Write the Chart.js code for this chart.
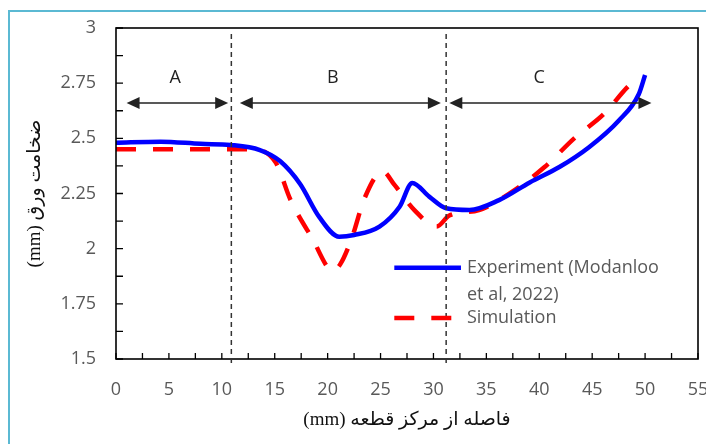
<!DOCTYPE html>
<html>
<head>
<meta charset="utf-8">
<script src="https://cdn.jsdelivr.net/npm/chart.js@4.4.1/dist/chart.umd.min.js"></script>
<style>
  html, body { margin: 0; padding: 0; background: #fff; }
  #wrap { width: 706px; height: 444px; position: relative; }
</style>
</head>
<body>
<div id="wrap"><canvas id="thickness" width="706" height="444" dir="rtl"></canvas></div>
<script>
// Experiment (Modanloo et al, 2022)
const expX = [0, 4.2, 8, 10.8, 13.6, 15.5, 17.4, 19.2, 21.1, 22.5, 24.9, 26.8, 28.0, 29.6, 31.2, 33.4, 36.2, 39.1, 41.9, 44.7, 47.5, 49.4, 50.0];
const expY = [2.48, 2.485, 2.475, 2.47, 2.447, 2.397, 2.293, 2.144, 2.054, 2.062, 2.10, 2.19, 2.298, 2.236, 2.183, 2.175, 2.22, 2.30, 2.37, 2.46, 2.58, 2.70, 2.787];

// Simulation
const simX = [0, 5, 10, 13, 15.1, 16.5, 18.5, 20.5, 21.2, 22.3, 23.5, 25.2, 26.3, 28.2, 30.3, 31.5, 34.3, 37.2, 40.5, 43.3, 46.1, 48.5, 49.6];
const simY = [2.45, 2.45, 2.45, 2.45, 2.39, 2.22, 2.05, 1.90, 1.93, 2.05, 2.23, 2.35, 2.29, 2.175, 2.10, 2.15, 2.175, 2.25, 2.37, 2.50, 2.61, 2.74, 2.78];

// zones A, B, C
const zoneLabels = ['A', 'B', 'C'];
const zoneStart = [1.0, 11.7, 31.5];
const zoneEnd = [10.6, 30.7, 50.6];
const zoneLabelX = [5.6, 20.5, 40.0];
const dividers = [10.9, 31.2];

const xTitle = 'فاصله از مرکز قطعه (mm)';
const yTitle = 'ضخامت ورق (mm)';

const toPoints = (xs, ys) => xs.map((x, i) => ({ x: x, y: ys[i] }));

const frame = {
  id: 'frame',
  afterDraw(chart) {
    const ctx = chart.ctx;
    const a = chart.chartArea;
    const xs = chart.scales.x, ys = chart.scales.y;
    ctx.save();
    ctx.direction = 'ltr';

    // outer cyan border
    ctx.strokeStyle = '#5bb9d3';
    ctx.lineWidth = 2;
    ctx.strokeRect(9, 11, 800, 800);

    // plot frame
    ctx.strokeStyle = '#000';
    ctx.lineWidth = 1.6;
    ctx.strokeRect(a.left, a.top, a.right - a.left, a.bottom - a.top);

    // inward tick marks
    ctx.lineWidth = 1.3;
    ctx.beginPath();
    for (let v = 0; v <= 55; v += 2.5) {
      const px = xs.getPixelForValue(v);
      ctx.moveTo(px, a.bottom);
      ctx.lineTo(px, a.bottom - 6);
    }
    for (let v = 1.5; v <= 3; v += 0.125) {
      const py = ys.getPixelForValue(v);
      ctx.moveTo(a.left, py);
      ctx.lineTo(a.left + 7, py);
    }
    ctx.stroke();

    // dashed dividers
    ctx.strokeStyle = '#333';
    ctx.lineWidth = 1.5;
    ctx.setLineDash([5, 4]);
    dividers.forEach(d => {
      const px = xs.getPixelForValue(d);
      ctx.beginPath();
      ctx.moveTo(px, a.top + 6);
      ctx.lineTo(px, a.bottom + 8);
      ctx.stroke();
    });
    ctx.setLineDash([]);

    // double arrows
    const ay = ys.getPixelForValue(2.66);
    ctx.strokeStyle = '#222';
    ctx.fillStyle = '#222';
    ctx.lineWidth = 1.5;
    const head = (x, dir) => {
      ctx.beginPath();
      ctx.moveTo(x, ay);
      ctx.lineTo(x - dir * 13, ay - 6);
      ctx.lineTo(x - dir * 13, ay + 6);
      ctx.closePath();
      ctx.fill();
    };
    ctx.font = '18px "Open Sans"';
    ctx.textAlign = 'center';
    ctx.textBaseline = 'middle';
    zoneLabels.forEach((lab, i) => {
      const x1 = xs.getPixelForValue(zoneStart[i]);
      const x2 = xs.getPixelForValue(zoneEnd[i]);
      ctx.beginPath();
      ctx.moveTo(x1 + 5, ay);
      ctx.lineTo(x2 - 5, ay);
      ctx.stroke();
      head(x1, -1);
      head(x2, 1);
      ctx.fillText(lab, xs.getPixelForValue(zoneLabelX[i]), ys.getPixelForValue(2.775));
    });

    // legend
    const ds = chart.data.datasets;
    const lx1 = xs.getPixelForValue(26.3), lx2 = xs.getPixelForValue(32.6);
    const rows = [ys.getPixelForValue(1.913), ys.getPixelForValue(1.686)];
    ds.forEach((d, i) => {
      ctx.strokeStyle = d.borderColor;
      ctx.lineWidth = d.borderWidth;
      ctx.setLineDash(d.borderDash || []);
      ctx.beginPath();
      ctx.moveTo(lx1, rows[i]);
      ctx.lineTo(i === 0 ? lx2 : lx2 - 6, rows[i]);
      ctx.stroke();
    });
    ctx.setLineDash([]);
    ctx.fillStyle = '#595959';
    ctx.textAlign = 'left';
    ctx.font = '18px "Open Sans"';
    ctx.fillText('Experiment (Modanloo', lx2 + 6, rows[0]);
    ctx.fillText('et al, 2022)', lx2 + 6, rows[0] + 27);
    ctx.fillText('Simulation', lx2 + 6, rows[1]);
    ctx.restore();
  }
};

new Chart(document.getElementById('thickness'), {
  type: 'line',
  data: {
    datasets: [
      {
        label: 'Experiment (Modanloo et al, 2022)',
        data: toPoints(expX, expY),
        borderColor: '#0000ff',
        borderWidth: 4.5,
        pointRadius: 0,
        cubicInterpolationMode: 'monotone',
        fill: false
      },
      {
        label: 'Simulation',
        data: toPoints(simX, simY),
        borderColor: '#ff0000',
        borderWidth: 4.5,
        borderDash: [20, 17],
        pointRadius: 0,
        cubicInterpolationMode: 'monotone',
        fill: false
      }
    ]
  },
  options: {
    responsive: false,
    animation: false,
    layout: { padding: { left: 0, top: 28, right: 8, bottom: 0 } },
    plugins: { legend: { display: false }, tooltip: { enabled: false } },
    scales: {
      x: {
        type: 'linear',
        min: 0, max: 55,
        grid: { display: false, drawTicks: false },
        border: { display: false },
        ticks: { stepSize: 5, padding: 20, color: '#595959', font: { family: 'Open Sans', size: 18 } },
        title: { display: true, text: xTitle, color: '#111', padding: { top: 0, bottom: 13 },
                 font: { family: "'Liberation Serif', 'DejaVu Sans'", size: 19 } },
        // the last label ("55") runs off the picture, so reserve no room for it
        afterFit(s) { s.height = 85; s.paddingLeft = 0; s.paddingRight = 0; }
      },
      y: {
        min: 1.5, max: 3,
        grid: { display: false, drawTicks: false },
        border: { display: false },
        ticks: { stepSize: 0.25, padding: 20, color: '#595959', font: { family: 'Open Sans', size: 18 },
                 callback: v => String(v) },
        title: { display: true, text: yTitle, color: '#111', padding: { top: 24, bottom: 0 },
                 font: { family: "'Liberation Serif', 'DejaVu Sans'", size: 19 } },
        afterFit(s) { s.width = 116; s.paddingTop = 0; s.paddingBottom = 0; }
      }
    }
  },
  plugins: [frame]
});
</script>
</body>
</html>
